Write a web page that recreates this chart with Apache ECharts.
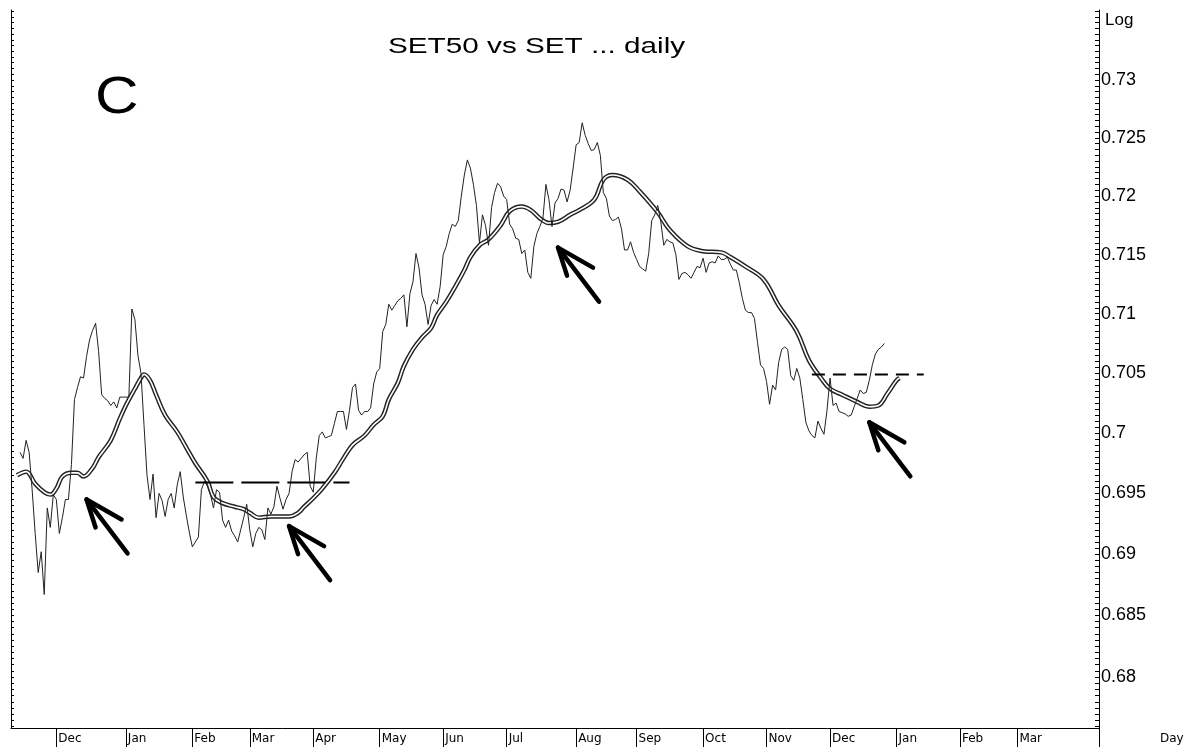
<!DOCTYPE html>
<html>
<head>
<meta charset="utf-8">
<title>SET50 vs SET ... daily</title>
<script src="https://cdn.jsdelivr.net/npm/echarts@6.0.0/dist/echarts.min.js"></script>
<style>
  html, body { margin: 0; padding: 0; background: #fff; }
  #chart { width: 1198px; height: 747px; }
</style>
</head>
<body>
<div id="chart"></div>
<script>
// trading-day axis, month label on the first session of each month
const dayCount = 361
const monthLabels = ['Dec', 'Jan', 'Feb', 'Mar', 'Apr', 'May', 'Jun', 'Jul', 'Aug', 'Sep', 'Oct', 'Nov', 'Dec', 'Jan', 'Feb', 'Mar']
const monthStartDays = [15, 38, 60, 79, 100, 122, 143, 164, 187, 207, 229, 250, 271, 293, 314, 333]

// y axis (log scale) tick labels and range
const yTickLabels = [0.68, 0.685, 0.69, 0.695, 0.7, 0.705, 0.71, 0.715, 0.72, 0.725, 0.73]
const yMin = 0.67589
const yMax = 0.7361

// SET50 / SET ratio, one value per session starting at day 3
const ratioStartDay = 3
const ratioValues = [
  0.6984, 0.6979, 0.6994, 0.6984, 0.6953, 0.6917, 0.6885, 0.6902, 0.6867, 0.6938,
  0.6922, 0.6949, 0.6945, 0.6917, 0.6930, 0.6945, 0.6945, 0.6974, 0.7028, 0.7038,
  0.7047, 0.7046, 0.7064, 0.7078, 0.7086, 0.7092, 0.7068, 0.7032, 0.7029, 0.7027,
  0.7023, 0.7026, 0.7021, 0.7030, 0.7030, 0.7030, 0.7030, 0.7104, 0.7095, 0.7065,
  0.7050, 0.7007, 0.6965, 0.6945, 0.6966, 0.6930, 0.6950, 0.6944, 0.6931, 0.6945,
  0.6950, 0.6938, 0.6957, 0.6968, 0.6947, 0.6932, 0.6918, 0.6906, 0.6910, 0.6914,
  0.6953, 0.6960, 0.6956, 0.6949, 0.6938, 0.6953, 0.6951, 0.6928, 0.6922, 0.6928,
  0.6919, 0.6915, 0.6910, 0.6920, 0.6930, 0.6941, 0.6920, 0.6906, 0.6917, 0.6922,
  0.6920, 0.6912, 0.6938, 0.6933, 0.6939, 0.6956, 0.6946, 0.6937, 0.6945, 0.6950,
  0.6968, 0.6978, 0.6976, 0.6979, 0.6982, 0.6984, 0.6956, 0.6951, 0.6979, 0.6998,
  0.7001, 0.6996, 0.6997, 0.6998, 0.7008, 0.7018, 0.7018, 0.7018, 0.7003, 0.7019,
  0.7038, 0.7041, 0.7019, 0.7015, 0.7018, 0.7018, 0.7021, 0.7041, 0.7051, 0.7054,
  0.7085, 0.7091, 0.7108, 0.7103, 0.7107, 0.7111, 0.7113, 0.7116, 0.7089, 0.7117,
  0.7127, 0.7151, 0.7139, 0.7116, 0.7108, 0.7091, 0.7107, 0.7112, 0.7108, 0.7123,
  0.7150, 0.7157, 0.7168, 0.7176, 0.7174, 0.7179, 0.7200, 0.7218, 0.7231, 0.7224,
  0.7210, 0.7192, 0.7160, 0.7184, 0.7175, 0.7158, 0.7190, 0.7203, 0.7211, 0.7208,
  0.7200, 0.7197, 0.7176, 0.7172, 0.7164, 0.7163, 0.7151, 0.7154, 0.7135, 0.7130,
  0.7157, 0.7168, 0.7174, 0.7181, 0.7210, 0.7197, 0.7174, 0.7194, 0.7198, 0.7206,
  0.7205, 0.7195, 0.7205, 0.7224, 0.7244, 0.7246, 0.7263, 0.7252, 0.7245, 0.7239,
  0.7240, 0.7246, 0.7235, 0.7203, 0.7198, 0.7183, 0.7179, 0.7180, 0.7182, 0.7172,
  0.7154, 0.7154, 0.7161, 0.7152, 0.7146, 0.7140, 0.7138, 0.7136, 0.7151, 0.7179,
  0.7184, 0.7192, 0.7178, 0.7158, 0.7163, 0.7161, 0.7160, 0.7150, 0.7129, 0.7134,
  0.7135, 0.7133, 0.7130, 0.7135, 0.7140, 0.7139, 0.7147, 0.7135, 0.7143, 0.7144,
  0.7143, 0.7149, 0.7146, 0.7146, 0.7148, 0.7142, 0.7137, 0.7137, 0.7126, 0.7113,
  0.7103, 0.7101, 0.7101, 0.7096, 0.7076, 0.7057, 0.7054, 0.7043, 0.7024, 0.7040,
  0.7036, 0.7059, 0.7070, 0.7072, 0.7070, 0.7048, 0.7044, 0.7054, 0.7046, 0.7028,
  0.7009, 0.7002, 0.6998, 0.6996, 0.7010, 0.7004, 0.6999, 0.7019, 0.7046, 0.7023,
  0.7025, 0.7018, 0.7017, 0.7016, 0.7014, 0.7015, 0.7022, 0.7029, 0.7036, 0.7033,
  0.7034, 0.7044, 0.7057, 0.7066, 0.7070, 0.7072, 0.7075,
]

// moving average (the double line), read at these sessions
const maDays = [
  2, 5, 8, 11, 13, 15, 17, 20, 22, 24, 27, 29, 33, 36, 38, 41, 43, 44, 46, 48,
  51, 55, 58, 61, 65, 67, 70, 74, 77, 79, 82, 86, 89, 92, 95, 97, 100, 103, 107, 110,
  113, 117, 120, 123, 125, 128, 130, 133, 136, 139, 141, 144, 147, 150, 152, 155, 158, 162, 165, 169,
  172, 175, 178, 181, 185, 188, 193, 196, 199, 204, 208, 214, 218, 224, 229, 235, 238, 243, 249, 254,
  260, 264, 268, 271, 275, 280, 284, 287, 290, 293, 294,
]
const maValues = [
  0.6965, 0.6968, 0.6958, 0.6951, 0.6949, 0.6954, 0.6964, 0.6967, 0.6967, 0.6964,
  0.6971, 0.6980, 0.6994, 0.7012, 0.7023, 0.7037, 0.7046, 0.7049, 0.7044, 0.7032,
  0.7015, 0.7001, 0.6988, 0.6975, 0.6960, 0.6947, 0.6942, 0.6939, 0.6937, 0.6934,
  0.6930, 0.6931, 0.6931, 0.6931, 0.6934, 0.6939, 0.6946, 0.6954, 0.6967, 0.6979,
  0.6990, 0.6998, 0.7007, 0.7014, 0.7028, 0.7042, 0.7056, 0.7070, 0.7080, 0.7088,
  0.7099, 0.7110, 0.7123, 0.7137, 0.7148, 0.7158, 0.7163, 0.7175, 0.7187, 0.7191,
  0.7188, 0.7181, 0.7177, 0.7178, 0.7184, 0.7188, 0.7197, 0.7214, 0.7218, 0.7214,
  0.7204, 0.7186, 0.7171, 0.7157, 0.7153, 0.7152, 0.7148, 0.7140, 0.7129, 0.7107,
  0.7085, 0.7061, 0.7046, 0.7037, 0.7032, 0.7026, 0.7022, 0.7023, 0.7033, 0.7044,
  0.7046,
]

// dashed levels: first / last session and level
const levelRanges = [[61, 112], [265, 302]]
const levelValues = [0.6959, 0.7049]

// arrow annotations, position of the arrow tip
const arrowDays = [25, 92, 181, 284]
const arrowValues = [0.6945, 0.6923, 0.7156, 0.7009]

const ln = Math.log
const days = Array.from({ length: dayCount }, (_, i) => String(i))
const monthAt = {}
monthStartDays.forEach((d, k) => { monthAt[d] = monthLabels[k] })

// minor ticks every 0.0005 on both vertical axes
const minorTicks = []
for (let k = 6760; k <= 7360; k += 5) minorTicks.push(ln(k / 10000))

const sans = 'Liberation Sans, Arial, sans-serif'
const small = 'DejaVu Sans, sans-serif'

const chart = echarts.init(document.getElementById('chart'))

const yBase = {
  type: 'value',
  min: ln(yMin),
  max: ln(yMax),
  splitLine: { show: false },
  axisLine: { show: true, lineStyle: { color: '#000', width: 1 } },
}

const option = {
  animation: false,
  backgroundColor: '#fff',
  // the title and the panel letter are drawn a little wider than normal, as in the original
  graphic: [
    {
      type: 'text',
      x: 388,
      y: 36,
      scaleX: 1.35,
      style: { text: 'SET50 vs SET ... daily', font: '22px Liberation Sans, Arial, sans-serif', fill: '#000' },
    },
    {
      type: 'text',
      x: 95,
      y: 73,
      scaleX: 1.16,
      style: { text: 'C', font: '52px Liberation Sans, Arial, sans-serif', fill: '#000' },
    },
  ],
  grid: { left: 11, right: 99, top: 10, bottom: 19, containLabel: false },
  xAxis: {
    type: 'category',
    data: days,
    boundaryGap: false,
    name: 'Day',
    nameLocation: 'end',
    nameGap: 61,
    nameTextStyle: { fontFamily: small, fontSize: 12, color: '#000', align: 'left', verticalAlign: 'top', padding: [5, 0, 0, 0] },
    axisLine: { lineStyle: { color: '#000', width: 1 } },
    axisTick: {
      interval: (i) => monthAt[i] !== undefined || i === dayCount - 1,
      length: 19,
      lineStyle: { color: '#000' },
    },
    axisLabel: {
      interval: (i) => monthAt[i] !== undefined,
      formatter: (v, i) => monthAt[i] || '',
      align: 'left',
      verticalAlign: 'top',
      margin: 5,
      padding: [0, 0, 0, 2],
      fontFamily: small,
      fontSize: 12,
      color: '#000',
    },
    splitLine: { show: false },
  },
  yAxis: [
    Object.assign({}, yBase, {
      position: 'right',
      name: 'Log',
      nameLocation: 'end',
      nameGap: -10,
      nameTextStyle: { fontFamily: sans, fontSize: 17, color: '#000', align: 'left', verticalAlign: 'middle', padding: [0, 0, 0, 6] },
      axisTick: { show: true, inside: true, length: 4, customValues: minorTicks, lineStyle: { color: '#000' } },
      axisLabel: {
        customValues: yTickLabels.map(ln),
        formatter: (v) => String(+Math.exp(v).toFixed(3)),
        margin: 2,
        fontFamily: sans,
        fontSize: 18,
        color: '#000',
      },
    }),
    Object.assign({}, yBase, {
      position: 'left',
      axisTick: { show: true, inside: true, length: 3, customValues: minorTicks, lineStyle: { color: '#000' } },
      axisLabel: { show: false },
    }),
  ],
  series: [
    {
      name: 'MA',
      type: 'line',
      data: maDays.map((d, k) => [d, ln(maValues[k])]),
      smooth: 0.4,
      showSymbol: false,
      lineStyle: { color: '#222', width: 4.5 },
      z: 2,
    },
    {
      name: 'MA inner',
      type: 'line',
      data: maDays.map((d, k) => [d, ln(maValues[k])]),
      smooth: 0.4,
      showSymbol: false,
      lineStyle: { color: '#fff', width: 1.6 },
      z: 3,
    },
    {
      name: 'SET50/SET',
      type: 'line',
      data: ratioValues.map((v, k) => [ratioStartDay + k, ln(v)]),
      showSymbol: false,
      lineStyle: { color: '#222', width: 1 },
      z: 4,
    },
    ...levelRanges.map((r, k) => ({
      name: 'level ' + (k + 1),
      type: 'line',
      data: [[r[0], ln(levelValues[k])], [r[1], ln(levelValues[k])]],
      showSymbol: false,
      lineStyle: { color: '#000', width: 2, type: k === 0 ? [38, 8] : [13, 8] },
      z: 5,
    })),
    {
      name: 'arrows',
      type: 'custom',
      data: arrowDays.map((d, k) => [d, ln(arrowValues[k])]),
      renderItem: (params, api) => {
        const p = api.coord([api.value(0), api.value(1)])
        const x = p[0]
        const y = p[1]
        const style = { stroke: '#000', lineWidth: 4.5, lineCap: 'round', lineJoin: 'round', fill: null }
        return {
          type: 'group',
          children: [
            { type: 'polyline', shape: { points: [[x, y], [x + 41, y + 54]] }, style },
            { type: 'polyline', shape: { points: [[x + 35, y + 20], [x, y], [x + 9, y + 28]] }, style },
          ],
        }
      },
      z: 6,
    },
  ],
}

chart.setOption(option)
</script>
</body>
</html>
